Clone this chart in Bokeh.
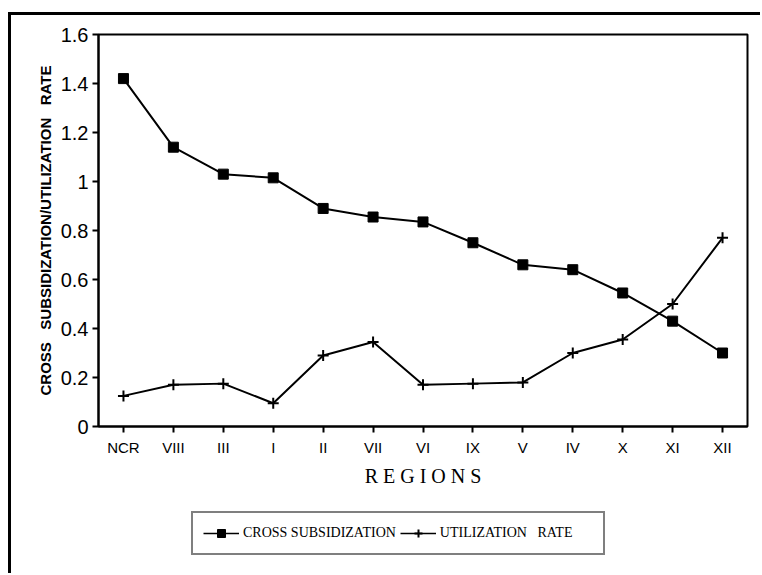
from bokeh.plotting import figure
from bokeh.layouts import column
from bokeh.models import FactorRange, Range1d, FixedTicker, PrintfTickFormatter, Legend, LegendItem
from bokeh.embed import file_html
from bokeh.resources import INLINE

NB = "\u00a0"

regions = ["NCR", "VIII", "III", "I", "II", "VII", "VI", "IX", "V", "IV", "X", "XI", "XII"]
cross_subsidization = [1.42, 1.14, 1.03, 1.015, 0.89, 0.855, 0.835, 0.75, 0.66, 0.64, 0.545, 0.43, 0.30]
utilization_rate = [0.125, 0.17, 0.175, 0.095, 0.29, 0.345, 0.17, 0.175, 0.18, 0.30, 0.355, 0.50, 0.77]
y_ticks = [0, 0.2, 0.4, 0.6, 0.8, 1.0, 1.2, 1.4, 1.6]

p = figure(
    x_range=FactorRange(*regions, range_padding=0),
    y_range=Range1d(0, 1.6),
    width=749, height=474,
    output_backend="svg", toolbar_location=None,
    min_border_left=87, min_border_right=13, min_border_top=19, min_border_bottom=63,
    background_fill_color="white", border_fill_color="white",
)

p.grid.visible = False
p.outline_line_color = "black"
p.outline_line_width = 2

for ax in (p.xaxis[0], p.yaxis[0]):
    ax.axis_line_width = 2
    ax.major_tick_line_width = 2
    ax.major_tick_out = 6
    ax.major_tick_in = 0
    ax.minor_tick_line_color = None

p.yaxis.ticker = FixedTicker(ticks=y_ticks)
p.yaxis.formatter = PrintfTickFormatter(format="%g")
p.yaxis.major_label_text_font = "Liberation Sans"
p.yaxis.major_label_text_font_size = "20px"
p.yaxis.major_label_text_color = "black"
p.yaxis.major_label_standoff = 4
p.yaxis.axis_label = "CROSS" + NB * 3 + "SUBSIDIZATION/UTILIZATION" + NB * 3 + "RATE"
p.yaxis.axis_label_text_font = "Liberation Sans"
p.yaxis.axis_label_text_font_style = "bold"
p.yaxis.axis_label_text_font_size = "15px"
p.yaxis.axis_label_text_color = "black"
p.yaxis.axis_label_standoff = 4

p.xaxis.major_label_text_font = "Liberation Sans"
p.xaxis.major_label_text_font_size = "15px"
p.xaxis.major_label_text_color = "black"
p.xaxis.major_label_standoff = 6
p.xaxis.axis_label = "R E G I O N S"
p.xaxis.axis_label_text_font = "Liberation Serif"
p.xaxis.axis_label_text_font_style = "normal"
p.xaxis.axis_label_text_font_size = "20px"
p.xaxis.axis_label_text_color = "black"
p.xaxis.axis_label_standoff = 6

p.line(regions, cross_subsidization, line_color="black", line_width=2)
p.scatter(regions, cross_subsidization, marker="square", size=10, fill_color="black", line_color="black")
p.line(regions, utilization_rate, line_color="black", line_width=2)
p.scatter(regions, utilization_rate, marker="cross", size=11, line_color="black", line_width=2)

# legend strip below the chart (its renderers hold no visible points)
nan = float("nan")
p2 = figure(
    width=749, height=84, output_backend="svg", toolbar_location=None,
    x_range=Range1d(0, 1), y_range=Range1d(0, 1),
    min_border_left=0, min_border_right=0, min_border_top=0, min_border_bottom=0,
    background_fill_color="white", border_fill_color="white",
)
p2.axis.visible = False
p2.grid.visible = False
p2.outline_line_color = None
l1 = p2.line(x=[nan], y=[nan], line_color="black", line_width=1.5)
s1 = p2.scatter(x=[nan], y=[nan], marker="square", size=9, fill_color="black", line_color="black")
l2 = p2.line(x=[nan], y=[nan], line_color="black", line_width=1.5)
s2 = p2.scatter(x=[nan], y=[nan], marker="cross", size=10, line_color="black", line_width=2)

legend = Legend(
    items=[LegendItem(label="CROSS SUBSIDIZATION", renderers=[l1, s1]),
           LegendItem(label="UTILIZATION" + NB * 3 + "RATE" + NB * 6, renderers=[l2, s2])],
    orientation="horizontal",
    location=(93, 18),
    border_line_color="black", border_line_width=2,
    label_text_font="Liberation Serif", label_text_font_size="14px",
    label_text_color="black",
    glyph_width=36, spacing=4, padding=10, margin=0,
    label_standoff=4,
)
p2.add_layout(legend, "center")

layout = column(p, p2, spacing=0)
layout.styles = {"margin-top": "12px", "margin-left": "8px",
                 "border-top": "3px solid black", "border-left": "3px solid black"}

open("out.html", "w").write(file_html(layout, INLINE))
